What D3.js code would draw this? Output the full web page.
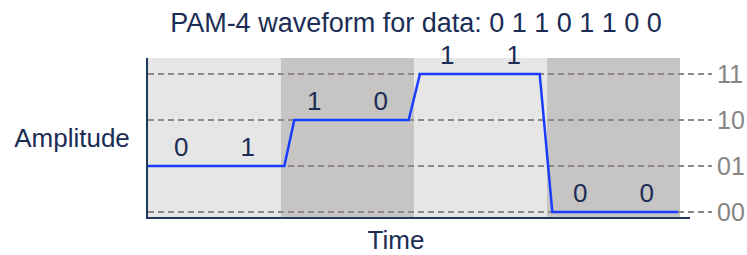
<!DOCTYPE html>
<html>
<head>
<meta charset="utf-8">
<script src="https://cdn.jsdelivr.net/npm/d3@7"></script>
<style>
body { margin: 0; background: #fff; }
text { font-family: "Liberation Sans", Arial, sans-serif; }
</style>
</head>
<body>
<div id="app"></div>
<script>
// data
var levels = ["00", "01", "10", "11"]
var bits = ["0", "1", "1", "0", "1", "1", "0", "0"]
var symbolLevel = [1, 2, 3, 0]            // level index of each 2-bit symbol
var waveTime = [0, 2.05, 2.2, 3.92, 4.09, 5.89, 6.08, 7.97]
var waveLevel = [1, 1, 2, 2, 3, 3, 0, 0]
var bandShade = ["light", "dark", "light", "dark"]

var W = 747, H = 255
var svg = d3.select("#app").append("svg").attr("width", W).attr("height", H)

var x = d3.scaleLinear().domain([0, 8]).range([148, 680])
var y = d3.scaleLinear().domain([0, 3]).range([212, 74])
var plotTop = 58, plotBottom = 218

// background bands, one per symbol
svg.selectAll("rect.band").data(symbolLevel).enter().append("rect")
  .attr("class", "band")
  .attr("x", (d, i) => x(i * 2))
  .attr("y", plotTop)
  .attr("width", x(2) - x(0))
  .attr("height", plotBottom - plotTop)
  .style("fill", (d, i) => bandShade[i] == "light" ? "#e6e6e6" : "#c6c5c4")

// dashed level lines + right labels
svg.selectAll("line.lvl").data(levels).enter().append("line")
  .attr("x1", x(0)).attr("x2", 712)
  .attr("y1", (d, i) => y(i)).attr("y2", (d, i) => y(i))
  .style("stroke", "#8e8987").style("stroke-width", 2).style("stroke-dasharray", "6,4")

svg.selectAll("text.lvl").data(levels).enter().append("text")
  .attr("x", 717).attr("y", (d, i) => y(i) + 9)
  .style("font-size", "25px").style("fill", "#8a8583")
  .text(d => d)

// axes
svg.append("line").attr("x1", 147).attr("x2", 147).attr("y1", plotTop).attr("y2", plotBottom + 1)
  .style("stroke", "#1d3a5c").style("stroke-width", 2)
svg.append("line").attr("x1", 146).attr("x2", 690).attr("y1", plotBottom).attr("y2", plotBottom)
  .style("stroke", "#1d3a5c").style("stroke-width", 2)

// waveform
var line = d3.line().x(d => x(d[0])).y(d => y(d[1]))
svg.append("path").datum(waveTime.map((t, i) => [t, waveLevel[i]]))
  .attr("d", line)
  .style("fill", "none").style("stroke", "#1a3cff").style("stroke-width", 2.5)

// bit labels
svg.selectAll("text.bit").data(bits).enter().append("text")
  .attr("x", (d, i) => x(i + 0.5))
  .attr("y", (d, i) => y(symbolLevel[Math.floor(i / 2)]) - 10)
  .attr("text-anchor", "middle")
  .style("font-size", "26px").style("fill", "#1b2d55")
  .text(d => d)

// titles
svg.append("text").attr("x", 416).attr("y", 32).attr("text-anchor", "middle")
  .style("font-size", "27px").style("fill", "#1b2d55")
  .text("PAM-4 waveform for data: " + bits.join(" "))
svg.append("text").attr("x", 72).attr("y", 147).attr("text-anchor", "middle")
  .style("font-size", "26px").style("fill", "#1b2d55")
  .text("Amplitude")
svg.append("text").attr("x", 396).attr("y", 249).attr("text-anchor", "middle")
  .style("font-size", "26px").style("fill", "#1b2d55")
  .text("Time")
</script>
</body>
</html>
